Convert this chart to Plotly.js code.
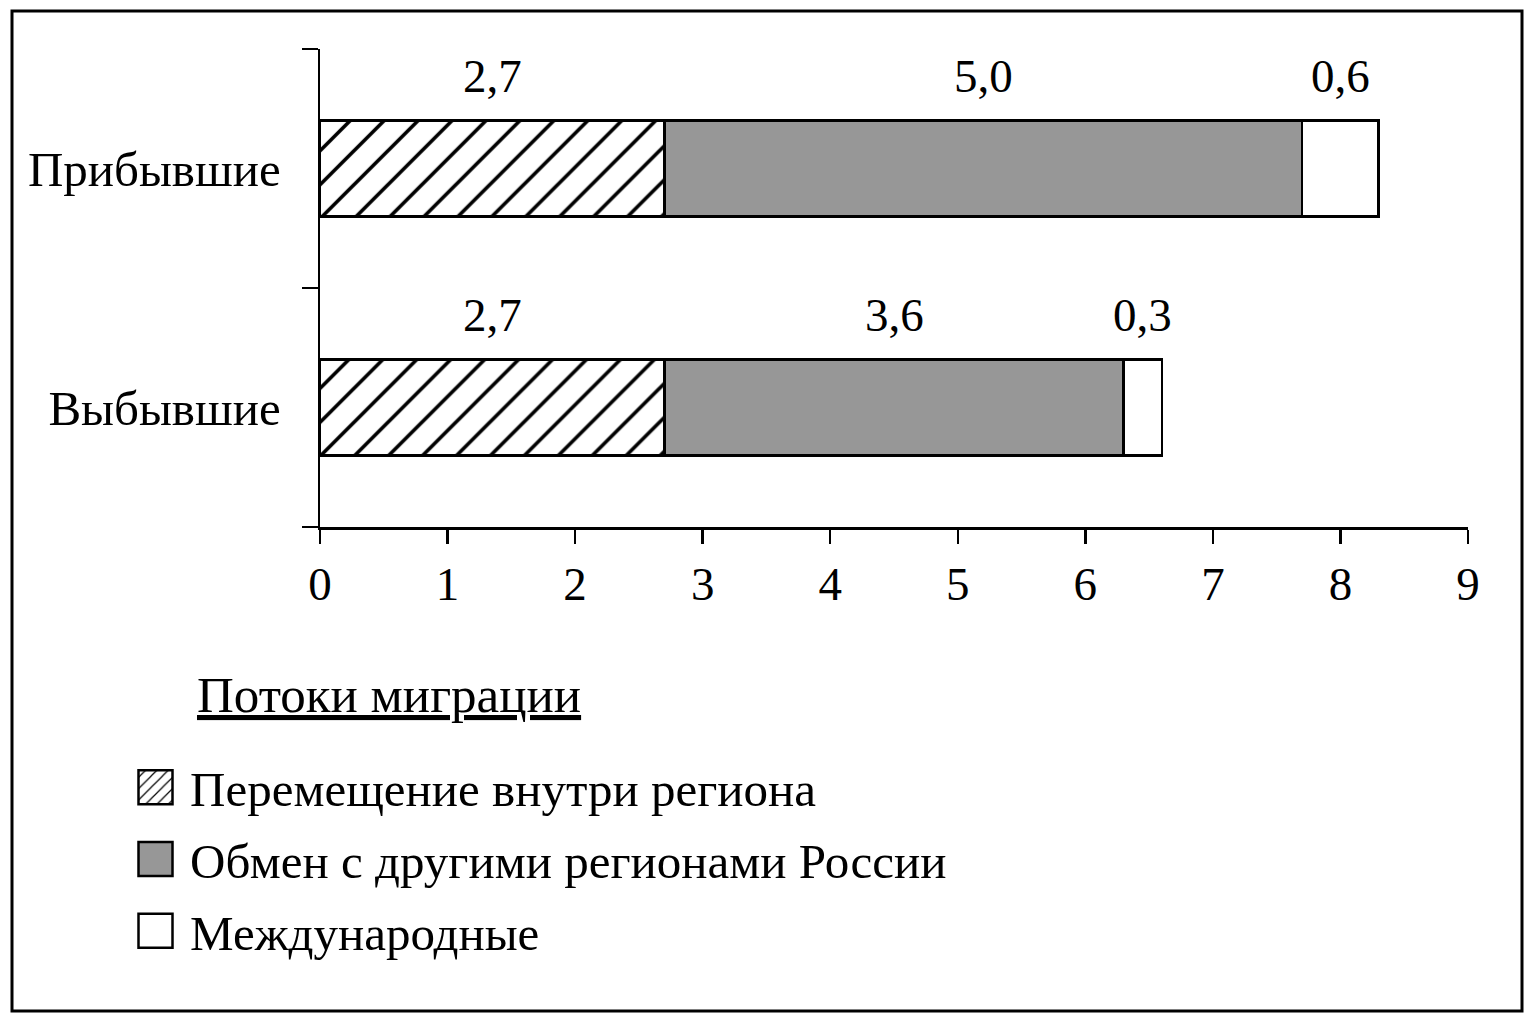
<!DOCTYPE html>
<html><head><meta charset="utf-8">
<script src="https://cdn.plot.ly/plotly-3.0.1.min.js"></script>
<style>html,body{margin:0;padding:0;background:#fff}</style>
</head><body><div id="chart" style="width:1536px;height:1024px"></div>
<script>
// ---- data ----
const categories = ['Прибывшие', 'Выбывшие'];
const seriesNames = ['Перемещение внутри региона', 'Обмен с другими регионами России', 'Международные'];
const withinRegion = [2.7, 2.7];
const otherRegions = [5.0, 3.6];
const international = [0.6, 0.3];
const xTickValues = [0, 1, 2, 3, 4, 5, 6, 7, 8, 9];
const legendTitle = 'Потоки миграции';

// ---- layout geometry ----
const W = 1536, H = 1024;
const M = {l: 320, r: 68, t: 49, b: 497};
const pw = W - M.l - M.r, ph = H - M.t - M.b;
const px = x => (x - M.l) / pw;
const py = y => (H - M.b - y) / ph;
const FONT = 'Liberation Serif, Times New Roman, serif';

const seriesValues = [withinRegion, otherRegions, international];
const styles = [
  {color: '#ffffff', pattern: {shape: '/', fgcolor: '#000000', bgcolor: '#ffffff', size: 24, solidity: 0.15, fillmode: 'replace'}},
  {color: '#979797'},
  {color: '#ffffff'}
];

const traces = seriesValues.map((vals, i) => ({
  type: 'bar', orientation: 'h', name: seriesNames[i],
  legendgroup: 'g' + i,
  y: categories, x: vals, width: 0.4,
  marker: Object.assign({line: {color: '#000', width: 2.5}}, styles[i]),
  hoverinfo: 'skip'
}));

const annotations = [];
categories.forEach((cat, c) => {
  let base = 0;
  seriesValues.forEach(vals => {
    const v = vals[c];
    annotations.push({
      x: base + v / 2, y: cat, xref: 'x', yref: 'y',
      text: v.toFixed(1).replace('.', ','), showarrow: false, yshift: 93,
      font: {family: FONT, size: 47, color: '#000'}
    });
    base += v;
  });
});
annotations.push({
  xref: 'paper', yref: 'paper', x: px(195), y: py(695), xanchor: 'left', yanchor: 'middle',
  text: '<span style="text-decoration:underline">' + legendTitle + '</span>',
  showarrow: false, font: {family: FONT, size: 51, color: '#000'}
});

const layout = {
  width: W, height: H,
  margin: {l: M.l, r: M.r, t: M.t, b: M.b, pad: 0, autoexpand: false},
  paper_bgcolor: '#fff', plot_bgcolor: '#fff',
  font: {family: FONT, color: '#000'},
  barmode: 'stack',
  showlegend: true,
  legend: {
    xref: 'container', yref: 'container',
    x: 135 / W, y: 1 - 749 / H, xanchor: 'left', yanchor: 'top',
    traceorder: 'grouped', tracegroupgap: 5, itemwidth: 45,
    font: {family: FONT, size: 49, color: '#000'},
    bgcolor: 'rgba(0,0,0,0)'
  },
  xaxis: {
    range: [0, 9], tickvals: xTickValues, ticktext: xTickValues.map(String),
    showline: true, linecolor: '#000', linewidth: 2.5,
    ticks: 'outside', ticklen: 14, tickwidth: 2.5, tickcolor: '#000',
    showgrid: false, zeroline: false, automargin: false,
    tickfont: {family: FONT, size: 47, color: '#000'}
  },
  yaxis: {
    type: 'category', categoryorder: 'array', categoryarray: categories.slice().reverse(),
    range: [-0.5, 1.5],
    showline: true, linecolor: '#000', linewidth: 2.5,
    ticks: 'outside', tickson: 'boundaries', ticklen: 16, tickwidth: 2.5, tickcolor: '#000',
    ticklabelstandoff: 27, automargin: false,
    showgrid: false, zeroline: false,
    tickfont: {family: FONT, size: 49, color: '#000'}
  },
  annotations: annotations,
  shapes: [{
    type: 'rect', xref: 'paper', yref: 'paper',
    x0: px(12), x1: px(1522), y0: py(1011), y1: py(11),
    line: {color: '#000', width: 3}, fillcolor: 'rgba(0,0,0,0)', layer: 'below'
  }]
};

Plotly.newPlot('chart', traces, layout, {displayModeBar: false, staticPlot: true}).then(gd => {
  gd.querySelectorAll('.legend .legendpoints path').forEach(p => {
    p.setAttribute('d', 'M10,17H-24V-17H10Z');
    p.style.strokeWidth = '2.5px';
  });
});
</script></body></html>
